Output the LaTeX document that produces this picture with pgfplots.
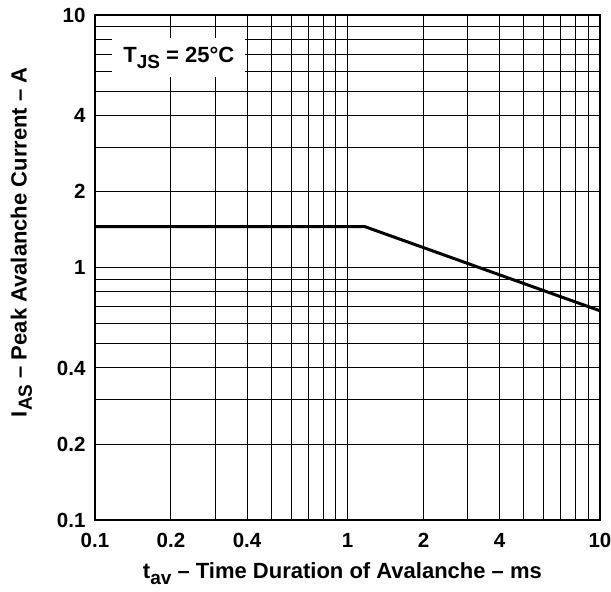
\documentclass[border=0pt]{standalone}
\usepackage{pgfplots}
\pgfplotsset{compat=1.18}
\usepackage{fontspec}
\setmainfont{Liberation Sans}
\begin{document}
\begin{tikzpicture}
\begin{axis}[
  xmode=log, ymode=log,
  scale only axis, width=505pt, height=505pt,
  xmin=0.1, xmax=10, ymin=0.1, ymax=10,
  xtick={0.1,0.2,0.4,1,2,4,10}, xticklabels={0.1,0.2,0.4,1,2,4,10},
  ytick={0.1,0.2,0.4,1,2,4,10}, yticklabels={0.1,0.2,0.4,1,2,4,10},
  minor xtick={0.3,0.5,0.6,0.7,0.8,0.9,3,5,6,7,8,9},
  minor ytick={0.3,0.5,0.6,0.7,0.8,0.9,3,5,6,7,8,9},
  grid=both,
  major grid style={black, line width=1pt},
  minor grid style={black, line width=1pt},
  major tick length=0pt, minor tick length=0pt,
  axis line style={line width=2pt},
  tick label style={font=\fontsize{20.5}{22}\selectfont\bfseries},
  /pgf/number format/assume math mode=true,
  xticklabel style={yshift=-10pt},
  yticklabel style={xshift=-6pt},
  label style={font=\fontsize{22}{24}\selectfont\bfseries},
  xlabel={t\raisebox{-0.45ex}{\fontsize{19}{19}\selectfont av} – Time Duration of Avalanche – ms},
  ylabel={I\raisebox{-0.45ex}{\fontsize{19}{19}\selectfont AS} – Peak Avalanche Current – A},
  ylabel style={at={(ticklabel cs:0.55)}},
  xlabel style={at={(ticklabel cs:0.49)}},
  xlabel shift=8pt,
  ylabel shift=18pt,
]
\addplot[black, line width=3pt] coordinates {(0.1,1.451) (1.173,1.451) (10,0.674)};
\node[fill=white, anchor=north west, minimum width=133pt, minimum height=39pt, inner sep=0pt,
  font=\fontsize{22}{24}\selectfont\bfseries]
  at (rel axis cs:0.034,0.954) {T\raisebox{-0.45ex}{\fontsize{19}{19}\selectfont JS} = 25°C};
\end{axis}
\pgfresetboundingbox
\path[use as bounding box] (current axis.south west) ++(-95pt,-72pt) rectangle ++(611pt,592pt);
\end{tikzpicture}
\end{document}
